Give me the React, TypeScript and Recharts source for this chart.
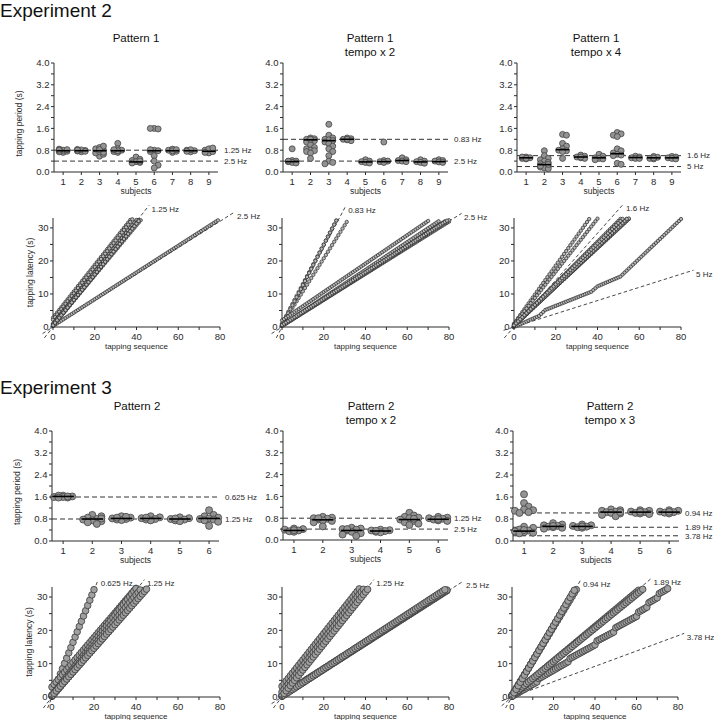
import React from 'react';
import { ComposedChart, Scatter, XAxis, YAxis, ReferenceLine } from 'recharts';

const FONT = '"Liberation Sans", Arial, Helvetica, sans-serif';
const INK = '#2a2a2a';

// ---------- axes ----------
const exp2Subjects = [1, 2, 3, 4, 5, 6, 7, 8, 9];
const exp3Subjects = [1, 2, 3, 4, 5, 6];
const periodTicks = [0, 0.4, 0.8, 1.2, 1.6, 2.0, 2.4, 2.8, 3.2, 3.6, 4.0];
const periodLabels = [0, 0.8, 1.6, 2.4, 3.2, 4.0];
const latencyTicks = [0, 5, 10, 15, 20, 25, 30];
const latencyLabels = [0, 10, 20, 30];
const sequenceTicks = [0, 10, 20, 30, 40, 50, 60, 70, 80];
const sequenceLabels = [0, 20, 40, 60, 80];

// ---------- tapping periods (s), one list per subject ----------
const p1Periods = [
  [0.72, 0.76, 0.78, 0.8, 0.82, 0.84, 0.74, 0.8],
  [0.74, 0.77, 0.79, 0.81, 0.83, 0.76, 0.8],
  [0.58, 0.65, 0.7, 0.75, 0.8, 0.85, 0.9, 0.95, 0.72, 0.82],
  [1.05, 0.85, 0.8, 0.75, 0.72, 0.78, 0.82],
  [0.55, 0.47, 0.42, 0.38, 0.35, 0.33, 0.4],
  [1.6, 1.58, 1.6, 0.8, 0.78, 0.75, 0.82, 0.6, 0.4, 0.25, 0.15],
  [0.72, 0.76, 0.8, 0.84, 0.78, 0.82],
  [0.74, 0.78, 0.8, 0.82, 0.76],
  [0.7, 0.75, 0.8, 0.85, 0.88, 0.72],
];
const p1Typical = [0.78, 0.78, 0.78, 0.78, 0.37, 0.78, 0.78, 0.78, 0.76];

const p1x2Periods = [
  [0.85, 0.42, 0.4, 0.38, 0.35, 0.33, 0.4],
  [1.25, 1.22, 1.2, 1.18, 1.15, 1.1, 1.0, 0.9, 0.85, 0.8, 0.78, 0.75, 0.7, 0.5, 1.2],
  [1.75, 1.35, 1.25, 1.2, 1.18, 1.15, 1.1, 1.05, 0.95, 0.85, 0.75, 0.6, 0.4, 0.35, 0.3],
  [1.25, 1.22, 1.2, 1.18, 1.15, 1.2],
  [0.45, 0.4, 0.38, 0.35, 0.33],
  [1.1, 0.42, 0.4, 0.38, 0.35],
  [0.52, 0.45, 0.42, 0.4, 0.38],
  [0.45, 0.4, 0.38, 0.35, 0.32],
  [0.45, 0.42, 0.4, 0.37, 0.35],
];
const p1x2Typical = [0.38, 1.18, 1.15, 1.2, 0.37, 0.38, 0.42, 0.37, 0.38];

const p1x4Periods = [
  [0.55, 0.52, 0.5, 0.48, 0.55, 0.5],
  [0.78, 0.6, 0.5, 0.45, 0.4, 0.35, 0.3, 0.25, 0.2, 0.18, 0.15, 0.12, 0.22, 0.28],
  [1.38, 1.35, 1.05, 0.95, 0.85, 0.8, 0.78, 0.75, 0.5],
  [0.62, 0.58, 0.55, 0.52, 0.5, 0.55],
  [0.65, 0.58, 0.52, 0.5, 0.48, 0.45],
  [1.45, 1.4, 1.35, 1.3, 0.85, 0.78, 0.7, 0.65, 0.62, 0.6, 0.32, 0.28],
  [0.58, 0.55, 0.52, 0.5, 0.5],
  [0.57, 0.54, 0.5, 0.48, 0.52],
  [0.57, 0.55, 0.52, 0.5, 0.48],
];
const p1x4Typical = [0.52, 0.27, 0.82, 0.55, 0.52, 0.67, 0.53, 0.52, 0.52];

const p2Periods = [
  [1.65, 1.62, 1.6, 1.58, 1.65, 1.6, 1.62, 1.58],
  [0.95, 0.9, 0.85, 0.8, 0.78, 0.75, 0.72, 0.68, 0.62, 0.82],
  [0.9, 0.85, 0.82, 0.8, 0.78, 0.76, 0.85, 0.88],
  [0.9, 0.86, 0.83, 0.8, 0.78, 0.75, 0.85],
  [0.86, 0.83, 0.8, 0.78, 0.75, 0.72, 0.82],
  [1.12, 0.95, 0.9, 0.85, 0.82, 0.8, 0.78, 0.75, 0.7, 0.55],
];
const p2Typical = [1.62, 0.8, 0.82, 0.82, 0.8, 0.82];

const p2x2Periods = [
  [0.42, 0.4, 0.38, 0.35, 0.32, 0.3, 0.36],
  [0.85, 0.82, 0.8, 0.78, 0.75, 0.72, 0.7, 0.65, 0.5, 0.8],
  [0.45, 0.42, 0.4, 0.38, 0.35, 0.3, 0.25, 0.2, 0.15, 0.4],
  [0.38, 0.36, 0.35, 0.33, 0.3, 0.28, 0.34],
  [1.0, 0.9, 0.85, 0.82, 0.8, 0.75, 0.7, 0.65, 0.6, 0.55, 0.78],
  [0.85, 0.82, 0.8, 0.78, 0.75, 0.72, 0.7, 0.77],
];
const p2x2Typical = [0.35, 0.74, 0.35, 0.33, 0.75, 0.76];

const p2x3Periods = [
  [1.7, 1.38, 1.25, 1.15, 1.12, 1.1, 1.05, 1.02, 0.52, 0.48, 0.42, 0.38, 0.35, 0.32, 0.3, 0.28, 0.4],
  [0.65, 0.6, 0.57, 0.55, 0.52, 0.5, 0.48, 0.45, 0.55],
  [0.6, 0.57, 0.55, 0.52, 0.5, 0.48, 0.53],
  [1.15, 1.12, 1.1, 1.07, 1.05, 1.02, 1.0, 0.95, 0.9, 1.05],
  [1.12, 1.1, 1.07, 1.05, 1.02, 1.0, 0.98, 1.06],
  [1.12, 1.1, 1.07, 1.05, 1.03, 1.0, 1.06],
];
const p2x3Typical = [0.36, 0.53, 0.53, 1.05, 1.05, 1.05];

// ---------- metronome references (period in s, end of the guide in taps) ----------
type Ref = { label: string; period: number; endX?: number };
const p1Refs: Ref[] = [{ label: '1.25 Hz', period: 0.8, endX: 46 }, { label: '2.5 Hz', period: 0.4, endX: 87 }];
const p1x2Refs: Ref[] = [{ label: '0.83 Hz', period: 1.2, endX: 30.5 }, { label: '2.5 Hz', period: 0.4, endX: 86 }];
const p1x4StripRefs: Ref[] = [{ label: '1.6 Hz', period: 0.6 }, { label: '5 Hz', period: 0.2 }];
const p1x4LineRefs: Ref[] = [{ label: '1.6 Hz', period: 0.71, endX: 52.5 }, { label: '5 Hz', period: 0.2, endX: 86 }];
const p2Refs: Ref[] = [{ label: '0.625 Hz', period: 1.6, endX: 22 }, { label: '1.25 Hz', period: 0.8, endX: 44 }];
const p2x2Refs: Ref[] = [{ label: '1.25 Hz', period: 0.8, endX: 44 }, { label: '2.5 Hz', period: 0.4, endX: 87 }];
const p2x3StripRefs: Ref[] = [
  { label: '0.94 Hz', period: 1.02 },
  { label: '1.89 Hz', period: 0.5 },
  { label: '3.78 Hz', period: 0.19 },
];
const p2x3LineRefs: Ref[] = [
  { label: '0.94 Hz', period: 1.06, endX: 33 },
  { label: '1.89 Hz', period: 0.53, endX: 67 },
  { label: '3.78 Hz', period: 0.23, endX: 83 },
];

// ---------- tap sequences: start latency + runs of [taps, period] ----------
type Run = [number, number];
type Taps = { start: number; runs: Run[] };
const p1Taps: Taps[] = [
  { start: 2.8, runs: [[37, 0.8]] },
  { start: 2.2, runs: [[38, 0.8]] },
  { start: 1.0, runs: [[40, 0.78]] },
  { start: 0.6, runs: [[41, 0.775]] },
  { start: 0.3, runs: [[79, 0.405]] },
  { start: 0.4, runs: [[42, 0.76]] },
  { start: 0.8, runs: [[40, 0.79]] },
  { start: 0.3, runs: [[41, 0.78]] },
  { start: 0.5, runs: [[41, 0.77]] },
];
const p1x2Taps: Taps[] = [
  { start: 0.3, runs: [[80, 0.395]] },
  { start: 0.8, runs: [[31, 1.0]] },
  { start: 1.0, runs: [[26, 1.2]] },
  { start: 0.5, runs: [[26, 1.22]] },
  { start: 0.4, runs: [[78, 0.405]] },
  { start: 2.0, runs: [[70, 0.43]] },
  { start: 0.5, runs: [[75, 0.42]] },
  { start: 0.3, runs: [[80, 0.4]] },
  { start: 0.6, runs: [[79, 0.4]] },
];
const p1x4Taps: Taps[] = [
  { start: 0.3, runs: [[54, 0.6]] },
  { start: 0, runs: [[12, 0.28], [3, 0.6], [22, 0.25], [3, 0.55], [11, 0.27], [29, 0.6]] },
  { start: 1.0, runs: [[36, 0.88]] },
  { start: 0.5, runs: [[55, 0.585]] },
  { start: 0.6, runs: [[51, 0.63]] },
  { start: 0.8, runs: [[40, 0.8]] },
  { start: 0.4, runs: [[55, 0.59]] },
  { start: 0.3, runs: [[54, 0.6]] },
  { start: 0.5, runs: [[52, 0.62]] },
];
const p2Taps: Taps[] = [
  { start: 0.6, runs: [[20, 1.58]] },
  { start: 0.3, runs: [[44, 0.72]] },
  { start: 3.0, runs: [[40, 0.74]] },
  { start: 0.5, runs: [[40, 0.8]] },
  { start: 0.2, runs: [[42, 0.76]] },
  { start: 0.4, runs: [[45, 0.71]] },
];
const p2x2Taps: Taps[] = [
  { start: 0.3, runs: [[79, 0.4]] },
  { start: 3.2, runs: [[37, 0.79]] },
  { start: 0.5, runs: [[79, 0.4]] },
  { start: 0.2, runs: [[78, 0.41]] },
  { start: 1.5, runs: [[39, 0.79]] },
  { start: 0.3, runs: [[41, 0.78]] },
];
const p2x3Taps: Taps[] = [
  {
    start: 0.2,
    runs: [[12, 0.36], [1, 1.0], [14, 0.36], [1, 1.0], [12, 0.34], [1, 1.2], [8, 0.33], [1, 1.3],
      [10, 0.34], [1, 1.3], [4, 0.36], [1, 1.4], [4, 0.36], [1, 1.3], [3, 0.35], [1, 0.4]],
  },
  { start: 0.3, runs: [[61, 0.52]] },
  { start: 0.5, runs: [[63, 0.505]] },
  { start: 0.3, runs: [[30, 1.05]] },
  { start: 0.6, runs: [[31, 1.02]] },
  { start: 0.2, runs: [[30, 1.06]] },
];

// ---------- layout ----------
const ML = 50;
const MR = 62;
const MT = 28;
const MB = 30;
type Box = { x0: number; x1: number; yTop: number; yBot: number };

function tapPoints(t: Taps) {
  const pts = [{ x: 0, y: t.start }];
  let x = 0;
  let y = t.start;
  for (const [n, p] of t.runs) {
    for (let i = 0; i < n; i++) {
      x += 1;
      y += p;
      pts.push({ x, y });
    }
  }
  return pts;
}

// simple deterministic beeswarm: nudge points sideways until they stop overlapping
function swarm(values: number[], center: number, pxX: number, pxY: number, r: number) {
  const placed: { x: number; y: number }[] = [];
  const step = (r * 1.3) / pxX;
  const maxOff = 0.42;
  for (const v of values) {
    let best = center;
    let bestD = -1;
    for (let k = 0; k < 12; k++) {
      const off = (k % 2 === 1 ? 1 : -1) * Math.ceil(k / 2) * step;
      if (Math.abs(off) > maxOff) break;
      const cx = center + off;
      let d = Infinity;
      for (const p of placed) d = Math.min(d, Math.hypot((p.x - cx) * pxX, (p.y - v) * pxY));
      if (d >= r * 1.5) {
        best = cx;
        bestD = d;
        break;
      }
      if (d > bestD) {
        bestD = d;
        best = cx;
      }
    }
    placed.push({ x: best, y: v });
  }
  return placed;
}

const LeftTick = (props: any) => {
  const { x, y, payload, labels } = props;
  const v = payload.value;
  const show = labels.includes(v);
  const txt = labels === periodLabels ? v.toFixed(1) : String(v);
  return (
    <g>
      <line x1={x} x2={x - 3} y1={y} y2={y} stroke={INK} strokeWidth={1} />
      {show && (
        <text x={x - 4.5} y={y} dy="0.35em" textAnchor="end" fontSize={9.5} fontFamily={FONT} fill={INK}>
          {txt}
        </text>
      )}
    </g>
  );
};

const BottomTick = (props: any) => {
  const { x, y, payload, labels, gap } = props;
  const v = payload.value;
  const show = labels.includes(v);
  return (
    <g>
      <line x1={x} x2={x} y1={y} y2={y + 3} stroke={INK} strokeWidth={1} />
      {show && (
        <text x={x} y={y + gap} dy="0.35em" textAnchor="middle" fontSize={9.5} fontFamily={FONT} fill={INK}>
          {v}
        </text>
      )}
    </g>
  );
};

const hzLabel = (text: string, dx: number, dy: number) => (props: any) => {
  const vb = props.viewBox;
  if (!vb) return null;
  return (
    <text x={vb.x + vb.width + dx} y={vb.y + dy} dy="0.35em" fontSize={8} fontFamily={FONT} fill={INK}>
      {text}
    </text>
  );
};

const yTitle = (text: string, offset: number, shift: number) => (props: any) => {
  const vb = props.viewBox;
  if (!vb) return null;
  const cx = vb.x + vb.width - offset;
  const cy = vb.y + vb.height / 2 + shift;
  return (
    <text x={cx} y={cy} transform={`rotate(-90 ${cx} ${cy})`} textAnchor="middle" dy="0.35em" fontSize={8.5} fontFamily={FONT} fill={INK}>
      {text}
    </text>
  );
};

const xTitle = (text: string, gap: number, size: number) => (props: any) => {
  const vb = props.viewBox;
  if (!vb) return null;
  return (
    <text x={vb.x + vb.width / 2} y={vb.y + gap} dy="0.35em" textAnchor="middle" fontSize={size} fontFamily={FONT} fill={INK}>
      {text}
    </text>
  );
};

function frame(box: Box) {
  return {
    left: box.x0 - ML,
    top: box.yTop - MT,
    width: box.x1 - box.x0 + ML + MR,
    height: box.yBot - box.yTop + MT + MB,
  };
}

function StripPanel(props: {
  box: Box;
  subjects: number[];
  domain: [number, number];
  periods: number[][];
  typical: number[];
  refs: Ref[];
  r: number;
  yLabel?: boolean;
}) {
  const { box, subjects, domain, periods, typical, refs, r, yLabel } = props;
  const f = frame(box);
  const pxX = (box.x1 - box.x0) / (domain[1] - domain[0]);
  const pxY = (box.yBot - box.yTop) / 4;
  const points = subjects.flatMap((s, i) => swarm(periods[i], s, pxX, pxY, r));
  const medians = subjects.map((s, i) => ({ x: s, y: typical[i] }));
  const half = 0.37 * pxX;
  return (
    <div style={{ position: 'absolute', left: f.left, top: f.top }}>
      <ComposedChart width={f.width} height={f.height} margin={{ top: MT, right: MR, bottom: 0, left: 0 }}>
        <XAxis
          type="number"
          dataKey="x"
          domain={domain}
          ticks={subjects}
          interval={0}
          height={MB}
          tickSize={0}
          tickMargin={0}
          tickLine={false}
          axisLine={{ stroke: INK }}
          tick={(p: any) => <BottomTick {...p} labels={subjects} gap={10} />}
          label={xTitle('subjects', 19.5, 8.5)}
        />
        <YAxis
          type="number"
          dataKey="y"
          domain={[0, 4]}
          ticks={periodTicks}
          interval={0}
          width={ML}
          tickSize={0}
          tickMargin={0}
          tickLine={false}
          axisLine={{ stroke: INK }}
          tick={(p: any) => <LeftTick {...p} labels={periodLabels} />}
          label={yLabel ? yTitle('tapping period (s)', 35, 6) : undefined}
        />
        {refs.map((ref) => (
          <ReferenceLine
            key={ref.label}
            y={ref.period}
            stroke="#333"
            strokeWidth={1}
            strokeDasharray="5 3"
            ifOverflow="visible"
            label={hzLabel(ref.label, 6, 0)}
          />
        ))}
        <Scatter
          data={points}
          isAnimationActive={false}
          shape={(p: any) => <circle cx={p.cx} cy={p.cy} r={r} fill="#939393" stroke="#444" strokeWidth={0.8} />}
        />
        <Scatter
          data={medians}
          isAnimationActive={false}
          shape={(p: any) => (
            <line x1={p.cx - half} x2={p.cx + half} y1={p.cy} y2={p.cy} stroke="#000" strokeWidth={1.6} />
          )}
        />
      </ComposedChart>
    </div>
  );
}

function LinePanel(props: { box: Box; taps: Taps[]; refs: Ref[]; r: number; big: boolean; yLabel?: boolean }) {
  const { box, taps, refs, r, big, yLabel } = props;
  const f = frame(box);
  return (
    <div style={{ position: 'absolute', left: f.left, top: f.top }}>
      <ComposedChart width={f.width} height={f.height} margin={{ top: MT, right: MR, bottom: 0, left: 0 }}>
        <XAxis
          type="number"
          dataKey="x"
          domain={[0, 80]}
          ticks={sequenceTicks}
          interval={0}
          height={MB}
          tickSize={0}
          tickMargin={0}
          tickLine={false}
          axisLine={{ stroke: INK }}
          tick={(p: any) => <BottomTick {...p} labels={sequenceLabels} gap={9.5} />}
          label={xTitle('tapping sequence', 19, 8)}
        />
        <YAxis
          type="number"
          dataKey="y"
          domain={[0, 33]}
          ticks={latencyTicks}
          interval={0}
          width={ML}
          tickSize={0}
          tickMargin={0}
          tickLine={false}
          axisLine={{ stroke: INK }}
          tick={(p: any) => <LeftTick {...p} labels={latencyLabels} />}
          label={yLabel ? yTitle('tapping latency (s)', 23, 0) : undefined}
        />
        {taps.map((t, i) => (
          <Scatter
            key={i}
            data={tapPoints(t)}
            isAnimationActive={false}
            shape={(p: any) => (
              <circle
                cx={p.cx}
                cy={p.cy}
                r={r}
                fill={big ? '#a0a0a0' : '#b8b8b8'}
                stroke={big ? '#3a3a3a' : '#262626'}
                strokeWidth={big ? 0.8 : 0.7}
              />
            )}
          />
        ))}
        {refs.map((ref) => {
          const x0 = Math.max(-5, -3.3 / ref.period);
          const x1 = ref.endX ?? 80;
          return (
            <ReferenceLine
              key={ref.label}
              segment={[
                { x: x0, y: x0 * ref.period },
                { x: x1, y: x1 * ref.period },
              ]}
              stroke="#333"
              strokeWidth={0.9}
              strokeDasharray="3.5 2.5"
              ifOverflow="visible"
              label={hzLabel(ref.label, 2.5, 4)}
            />
          );
        })}
      </ComposedChart>
    </div>
  );
}

const Title = ({ lines, cx, top }: { lines: string[]; cx: number; top: number }) => (
  <div
    style={{
      position: 'absolute',
      left: cx - 80,
      width: 160,
      top,
      textAlign: 'center',
      fontSize: 11.5,
      lineHeight: '14px',
      fontFamily: FONT,
      color: '#111',
    }}
  >
    {lines.map((l) => (
      <div key={l}>{l}</div>
    ))}
  </div>
);

const Heading = ({ text, top }: { text: string; top: number }) => (
  <div style={{ position: 'absolute', left: 0, top, fontSize: 19, lineHeight: '20px', fontFamily: FONT, color: '#111' }}>
    {text}
  </div>
);

const A1: Box = { x0: 54, x1: 218, yTop: 63, yBot: 172 };
const A2: Box = { x0: 283, x1: 448, yTop: 63, yBot: 172 };
const A3: Box = { x0: 517, x1: 681, yTop: 63, yBot: 172 };
const B1: Box = { x0: 53, x1: 220, yTop: 218, yBot: 327 };
const B2: Box = { x0: 282, x1: 449, yTop: 218, yBot: 327 };
const B3: Box = { x0: 514, x1: 681, yTop: 218, yBot: 327 };
const C1: Box = { x0: 52, x1: 219, yTop: 431, yBot: 541 };
const C2: Box = { x0: 283, x1: 448, yTop: 431, yBot: 540 };
const C3: Box = { x0: 513, x1: 679, yTop: 431, yBot: 541 };
const D1: Box = { x0: 52, x1: 220, yTop: 587, yBot: 697 };
const D2: Box = { x0: 282, x1: 449, yTop: 587, yBot: 697 };
const D3: Box = { x0: 512, x1: 678, yTop: 587, yBot: 697 };

export default function App() {
  return (
    <div style={{ position: 'absolute', left: 0, top: 0, width: 714, height: 720, background: '#fff', overflow: 'hidden' }}>
      <Heading text="Experiment 2" top={1} />
      <Title lines={['Pattern 1']} cx={136} top={31} />
      <Title lines={['Pattern 1', 'tempo x 2']} cx={370} top={31} />
      <Title lines={['Pattern 1', 'tempo x 4']} cx={596} top={31} />

      <StripPanel box={A1} subjects={exp2Subjects} domain={[0.5, 9.5]} periods={p1Periods} typical={p1Typical} refs={p1Refs} r={3} yLabel />
      <StripPanel box={A2} subjects={exp2Subjects} domain={[0.5, 9.5]} periods={p1x2Periods} typical={p1x2Typical} refs={p1x2Refs} r={3} />
      <StripPanel box={A3} subjects={exp2Subjects} domain={[0.5, 9.5]} periods={p1x4Periods} typical={p1x4Typical} refs={p1x4StripRefs} r={3} />

      <LinePanel box={B1} taps={p1Taps} refs={p1Refs} r={1.7} big={false} yLabel />
      <LinePanel box={B2} taps={p1x2Taps} refs={p1x2Refs} r={1.7} big={false} />
      <LinePanel box={B3} taps={p1x4Taps} refs={p1x4LineRefs} r={1.7} big={false} />

      <Heading text="Experiment 3" top={378} />
      <Title lines={['Pattern 2']} cx={137} top={399} />
      <Title lines={['Pattern 2', 'tempo x 2']} cx={371} top={399} />
      <Title lines={['Pattern 2', 'tempo x 3']} cx={610} top={399} />

      <StripPanel box={C1} subjects={exp3Subjects} domain={[0.62, 6.34]} periods={p2Periods} typical={p2Typical} refs={p2Refs} r={3.5} yLabel />
      <StripPanel box={C2} subjects={exp3Subjects} domain={[0.62, 6.34]} periods={p2x2Periods} typical={p2x2Typical} refs={p2x2Refs} r={3.5} />
      <StripPanel box={C3} subjects={exp3Subjects} domain={[0.62, 6.34]} periods={p2x3Periods} typical={p2x3Typical} refs={p2x3StripRefs} r={3.5} />

      <LinePanel box={D1} taps={p2Taps} refs={p2Refs} r={3.3} big yLabel />
      <LinePanel box={D2} taps={p2x2Taps} refs={p2x2Refs} r={3.3} big />
      <LinePanel box={D3} taps={p2x3Taps} refs={p2x3LineRefs} r={3.3} big />
    </div>
  );
}
